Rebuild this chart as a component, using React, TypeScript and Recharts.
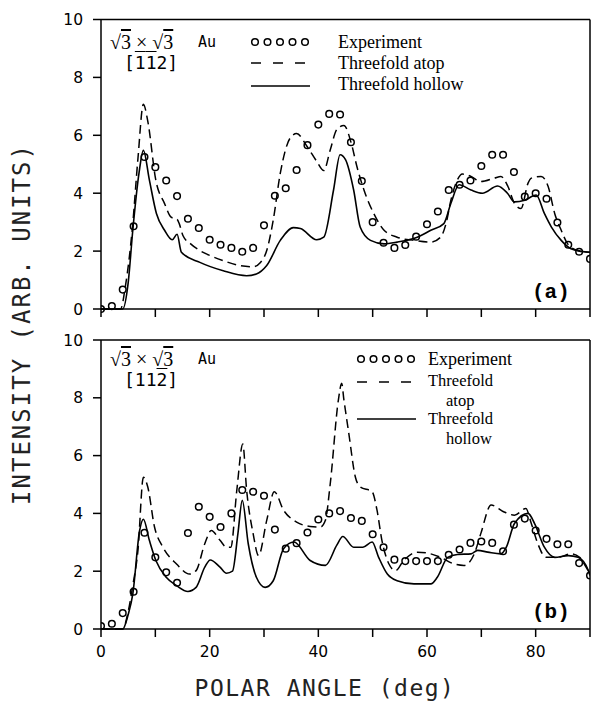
import React from 'react';
import { LineChart, Line, XAxis, YAxis, ReferenceLine } from 'recharts';

// ---------- data ----------
const expAngles = [0, 2, 4, 6, 8, 10, 12, 14, 16, 18, 20, 22, 24, 26, 28, 30, 32, 34, 36, 38, 40, 42, 44, 46, 48, 50, 52, 54, 56, 58, 60, 62, 64, 66, 68, 70, 72, 74, 76, 78, 80, 82, 84, 86, 88, 90];

const expA = [0, 0.1, 0.67, 2.86, 5.25, 4.9, 4.44, 3.9, 3.12, 2.8, 2.39, 2.22, 2.11, 1.98, 2.11, 2.89, 3.91, 4.17, 4.8, 5.66, 6.37, 6.74, 6.72, 5.76, 4.42, 3.0, 2.29, 2.11, 2.21, 2.5, 2.93, 3.37, 4.11, 4.29, 4.44, 4.94, 5.33, 5.33, 4.73, 3.88, 4.0, 3.81, 2.99, 2.22, 1.98, 1.73];

const atopAx = [0, 3.6, 4.5, 5.8, 6.8, 7.8, 8.6, 10.1, 11.7, 12.9, 14, 14.4, 15.1, 16.5, 18.2, 20, 22.5, 25.6, 28, 29.3, 30.5, 31.7, 33, 34.8, 36, 37.9, 39.7, 41, 42.2, 43.4, 44.7, 46.1, 47.1, 48.4, 50.2, 52.1, 54.5, 57.6, 60.7, 62.5, 63.5, 64.4, 65.6, 66.5, 68.1, 69.9, 72.4, 73.6, 74.9, 76.1, 77.3, 78.6, 79.2, 81, 82.3, 83.5, 84.7, 85.9, 87.8, 90];
const atopAy = [0, 0, 0.8, 2.85, 5.2, 7.07, 6.5, 4.44, 3.64, 3.17, 3.1, 2.95, 2.53, 2.25, 2.02, 1.85, 1.67, 1.5, 1.46, 1.6, 2.02, 3.07, 4.69, 5.9, 6.06, 5.62, 5.1, 4.78, 5.5, 6.2, 6.34, 5.7, 4.92, 4.11, 3.3, 2.72, 2.48, 2.37, 2.31, 2.48, 2.95, 3.76, 4.46, 4.66, 4.58, 4.4, 4.52, 4.58, 4.23, 3.65, 3.47, 4.35, 4.52, 4.58, 4.23, 3.3, 2.72, 2.25, 2.02, 1.96];

const hollowAx = [0, 4, 5, 5.85, 7, 7.8, 8.9, 10.2, 11.7, 13.1, 14, 14.8, 18.2, 22.5, 26.8, 28.6, 30.5, 33, 35.4, 36.7, 39.7, 41, 42.8, 44, 45, 46.5, 47.7, 49.6, 52.1, 54.5, 58.2, 60.7, 63.1, 64.4, 65.9, 68.1, 70.2, 73, 74.8, 76.1, 78, 80.1, 81.6, 82.9, 84.7, 86.5, 88.4, 90];
const hollowAy = [0, 0, 0.9, 2.72, 4.7, 5.48, 4.46, 3.3, 2.72, 2.39, 2.58, 1.96, 1.61, 1.32, 1.15, 1.21, 1.5, 2.37, 2.81, 2.78, 2.39, 2.48, 4.11, 5.33, 5.16, 4.11, 2.83, 2.37, 2.25, 2.31, 2.48, 2.72, 2.95, 3.65, 4.29, 4.11, 4.0, 4.25, 4.0, 3.7, 3.76, 3.94, 3.3, 2.83, 2.37, 2.08, 1.99, 1.96];

const expB = [0.1, 0.18, 0.55, 1.29, 3.33, 2.48, 1.96, 1.6, 3.32, 4.23, 3.88, 3.53, 4.0, 4.81, 4.75, 4.61, 3.44, 2.78, 2.97, 3.34, 3.79, 4.0, 4.08, 3.84, 3.74, 3.28, 2.83, 2.4, 2.35, 2.35, 2.35, 2.35, 2.57, 2.75, 2.98, 3.03, 2.98, 2.69, 3.61, 3.82, 3.41, 3.12, 2.93, 2.93, 2.28, 1.85];

const atopBx = [0, 4, 5, 5.85, 6.8, 7.8, 8.6, 9.85, 11.4, 13.9, 16.3, 17.5, 19.1, 20.3, 21.9, 23.1, 23.9, 25, 26.1, 26.8, 28, 29, 30.5, 31.9, 33.6, 36, 38.5, 40.4, 41.3, 42.2, 43.7, 44.3, 44.7, 45.6, 46.8, 47.7, 49.9, 50.8, 51.7, 53, 54.2, 55.7, 58.2, 60.7, 62.5, 65, 66.8, 68.7, 69.9, 71.8, 74.2, 76.1, 78.2, 79.2, 80.4, 81.9, 84.1, 86.5, 88.1, 89.3, 90];
const atopBy = [0, 0, 0.6, 1.5, 2.72, 5.25, 4.92, 3.53, 2.83, 2.25, 1.9, 2.02, 2.95, 3.41, 3.07, 2.83, 2.83, 4.81, 6.4, 4.81, 3.3, 2.54, 3.76, 4.75, 4.11, 3.7, 3.55, 3.53, 3.76, 5.04, 7.94, 8.5, 7.94, 6.78, 5.27, 4.92, 4.75, 4.11, 3.07, 2.25, 2.02, 2.37, 2.66, 2.6, 2.48, 2.25, 2.2, 2.6, 3.3, 4.29, 4.05, 3.94, 4.17, 3.65, 2.95, 2.48, 2.48, 2.6, 2.48, 2.13, 1.9];

const hollowBx = [0, 4, 5, 5.85, 7.1, 7.8, 8.9, 10.1, 12, 13.9, 16, 17.5, 19.1, 20.1, 21.9, 23.1, 24.2, 25.2, 26, 27.1, 28.6, 30.2, 31.7, 33.6, 35.5, 38.5, 41.3, 43.4, 44.5, 46.5, 48.2, 49.9, 51.1, 52.7, 54.5, 57.6, 60.7, 61.9, 63.8, 65.6, 68.1, 69.3, 71.2, 73.6, 74.6, 76.1, 78.6, 79.8, 81.6, 83.5, 86, 87.8, 89.7, 90];
const hollowBy = [0, 0, 0.5, 1.21, 3.4, 3.8, 3.07, 2.37, 1.79, 1.5, 1.3, 1.44, 2.14, 2.39, 2.14, 1.93, 2.0, 3.3, 4.45, 2.95, 1.79, 1.44, 1.67, 2.78, 3.01, 2.37, 2.2, 2.9, 3.2, 2.83, 2.83, 3.01, 2.48, 1.9, 1.67, 1.56, 1.56, 1.79, 2.48, 2.58, 2.6, 2.72, 2.66, 2.6, 2.83, 3.65, 4.0, 3.65, 2.83, 2.48, 2.54, 2.48, 2.02, 1.85];

const xTicks = [0, 10, 20, 30, 40, 50, 60, 70, 80, 90];
const xTickLabels = ['0', '', '20', '', '40', '', '60', '', '80', ''];
const yTicks = [0, 2, 4, 6, 8, 10];
const yTickLabels = ['0', '2', '4', '6', '8', '10'];

const legendLabels = ['Experiment', 'Threefold atop', 'Threefold hollow'];

// ---------- helpers ----------
const zip = (xs: number[], ys: number[]) => xs.map((x, i) => ({ x, y: ys[i] }));

const tickFont = { fontFamily: 'DejaVu Sans', fontSize: 15.5, fill: '#000' };
const axisLineStyle = { stroke: '#000', strokeWidth: 1.5 };

type PanelProps = {
  top: number;
  height: number;
  margin: { top: number; right: number; bottom: number; left: number };
  bottomAxisHeight: number;
  showXLabels: boolean;
  exp: number[];
  atop: { x: number; y: number }[];
  hollow: { x: number; y: number }[];
};

function Panel({ top, height, margin, bottomAxisHeight, showXLabels, exp, atop, hollow }: PanelProps) {
  const expData = zip(expAngles, exp);
  return (
    <div style={{ position: 'absolute', left: 0, top, width: 592, height }}>
      <LineChart width={592} height={height} margin={margin}>
        <XAxis
          xAxisId="t"
          orientation="top"
          type="number"
          dataKey="x"
          domain={[0, 90]}
          ticks={xTicks}
          tickFormatter={() => ''}
          height={10}
          tickSize={8}
          axisLine={axisLineStyle}
          tickLine={axisLineStyle}
        />
        <XAxis
          type="number"
          dataKey="x"
          domain={[0, 90]}
          allowDataOverflow
          ticks={xTicks}
          tickFormatter={(v: number) => (showXLabels ? xTickLabels[xTicks.indexOf(v)] : '')}
          height={bottomAxisHeight}
          tickSize={8}
          tickMargin={9}
          tick={tickFont}
          axisLine={axisLineStyle}
          tickLine={axisLineStyle}
          interval={0}
        />
        <YAxis
          type="number"
          domain={[0, 10]}
          ticks={yTicks}
          tickFormatter={(v: number) => yTickLabels[yTicks.indexOf(v)]}
          width={41}
          tickSize={8}
          tickMargin={10}
          tick={tickFont}
          axisLine={axisLineStyle}
          tickLine={axisLineStyle}
          interval={0}
        />
        <ReferenceLine x={90} stroke="#000" strokeWidth={1.5} />
        <Line
          data={atop}
          dataKey="y"
          type="monotone"
          stroke="#000"
          strokeWidth={1.5}
          strokeDasharray="9 5"
          dot={false}
          isAnimationActive={false}
        />
        <Line
          data={hollow}
          dataKey="y"
          type="monotone"
          stroke="#000"
          strokeWidth={1.6}
          dot={false}
          isAnimationActive={false}
        />
        <Line
          data={expData}
          dataKey="y"
          stroke="none"
          dot={{ r: 3.3, stroke: '#000', strokeWidth: 1.5, fill: 'none' }}
          isAnimationActive={false}
        />
      </LineChart>
    </div>
  );
}

const serif = '"Liberation Serif", "Times New Roman", serif';
const mono = '"DejaVu Sans Mono", monospace';

const abs = (left: number, cy: number, extra: React.CSSProperties = {}): React.CSSProperties => ({
  position: 'absolute',
  left,
  top: cy,
  transform: 'translateY(-50%)',
  whiteSpace: 'nowrap',
  lineHeight: 1,
  color: '#000',
  ...extra,
});

function Sym({ kind }: { kind: 'dots' | 'dash' | 'solid' }) {
  return (
    <svg width={62} height={12} style={{ display: 'block' }}>
      {kind === 'dots' &&
        [0, 1, 2, 3, 4].map((i) => (
          <circle key={i} cx={5 + i * 12.5} cy={6} r={3.3} fill="none" stroke="#000" strokeWidth={1.5} />
        ))}
      {kind === 'dash' && <line x1={1} y1={6} x2={60} y2={6} stroke="#000" strokeWidth={1.5} strokeDasharray="10 12" />}
      {kind === 'solid' && <line x1={1} y1={6} x2={60} y2={6} stroke="#000" strokeWidth={1.6} />}
    </svg>
  );
}

function Title({ cy, idx }: { cy: number; idx: 'a' | 'b' }) {
  const ob: React.CSSProperties = { textDecoration: 'overline' };
  return (
    <>
      <div style={abs(110, cy, { fontFamily: serif, fontSize: 20 })}>
        √<span style={ob}>3</span> × √<span style={ob}>3</span>
      </div>
      <div style={abs(198, cy, { fontFamily: mono, fontSize: 15 })}>Au</div>
      <div style={abs(124, cy + 21, { fontFamily: mono, fontSize: 18 })}>
        {idx === 'a' ? (
          <>
            [<span style={ob}>1</span>
            <span style={ob}>1</span>2]
          </>
        ) : (
          <>
            [11<span style={ob}>2</span>]
          </>
        )}
      </div>
    </>
  );
}

const legB: React.CSSProperties = { fontFamily: serif, fontSize: 16.5 };

export default function App() {
  return (
    <div style={{ position: 'absolute', left: 0, top: 0, width: 592, height: 702, background: '#fff', overflow: 'hidden' }}>
      <Panel
        top={0}
        height={330}
        margin={{ top: 9.5, right: 2, bottom: 11, left: 60 }}
        bottomAxisHeight={10}
        showXLabels={false}
        exp={expA}
        atop={zip(atopAx, atopAy)}
        hollow={zip(hollowAx, hollowAy)}
      />
      <Panel
        top={320}
        height={382}
        margin={{ top: 10, right: 2, bottom: 33, left: 60 }}
        bottomAxisHeight={40}
        showXLabels={true}
        exp={expB}
        atop={zip(atopBx, atopBy)}
        hollow={zip(hollowBx, hollowBy)}
      />

      {/* panel (a) legend */}
      <Title cy={42} idx="a" />
      <div style={abs(250, 42)}><Sym kind="dots" /></div>
      <div style={abs(250, 63)}><Sym kind="dash" /></div>
      <div style={abs(250, 86)}><Sym kind="solid" /></div>
      <div style={abs(338, 42, { fontFamily: serif, fontSize: 18 })}>{legendLabels[0]}</div>
      <div style={abs(338, 63, { fontFamily: serif, fontSize: 18 })}>{legendLabels[1]}</div>
      <div style={abs(338, 84, { fontFamily: serif, fontSize: 18 })}>{legendLabels[2]}</div>
      <div style={abs(532, 292, { fontFamily: '"Liberation Mono", monospace', fontSize: 21, fontWeight: 'bold' })}>(a)</div>

      {/* panel (b) legend */}
      <Title cy={359} idx="b" />
      <div style={abs(356, 359)}><Sym kind="dots" /></div>
      <div style={abs(356, 382)}><Sym kind="dash" /></div>
      <div style={abs(356, 419)}><Sym kind="solid" /></div>
      <div style={abs(428, 359, { ...legB, fontSize: 18 })}>Experiment</div>
      <div style={abs(428, 381, legB)}>Threefold</div>
      <div style={abs(446, 400.5, legB)}>atop</div>
      <div style={abs(428, 419, legB)}>Threefold</div>
      <div style={abs(446, 438.5, legB)}>hollow</div>
      <div style={abs(532, 612, { fontFamily: '"Liberation Mono", monospace', fontSize: 21, fontWeight: 'bold' })}>(b)</div>

      {/* axis titles */}
      <div
        style={{
          position: 'absolute',
          left: 22,
          top: 324,
          transform: 'translate(-50%, -50%) rotate(-90deg)',
          whiteSpace: 'nowrap',
          fontFamily: mono,
          fontSize: 24,
          letterSpacing: 2,
          lineHeight: 1,
          color: '#222',
        }}
      >
        INTENSITY (ARB. UNITS)
      </div>
      <div
        style={{
          position: 'absolute',
          left: 325,
          top: 688,
          transform: 'translate(-50%, -50%)',
          whiteSpace: 'nowrap',
          fontFamily: mono,
          fontSize: 23,
          letterSpacing: 1.5,
          lineHeight: 1,
          color: '#222',
        }}
      >
        POLAR ANGLE (deg)
      </div>
    </div>
  );
}
